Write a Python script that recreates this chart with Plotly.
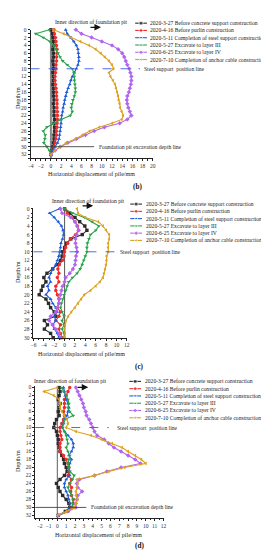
import plotly.graph_objects as go

W, H = 269, 550
FONT = "Liberation Serif"

# ---------------- data ----------------
LABELS = [
    "2020-3-27 Before concrete support construction",
    "2020-4-16 Before purlin construction",
    "2020-5-11 Completion of steel support construction",
    "2020-5-27 Excavate to layer III",
    "2020-6-25 Excavate to layer IV",
    "2020-7-10 Completion of anchor cable construction",
]
COLORS = ["#2b2b2b", "#f02b2b", "#1f5cd6", "#27a34a", "#b265ee", "#dba21e"]
SYMBOLS = ["square", "circle", "triangle-up", "triangle-down", "diamond", "triangle-left"]

DEPTH_B = list(range(0, 33))
DEPTH_C = list(range(0, 31))
DEPTH_D = list(range(0, 33))

# panel (b)
B_0327 = [0.0, 0.3, 0.4, 0.5, 0.5, 0.4, 0.5, 0.5, 0.4, 0.5, 0.5, 0.4, 0.5, 0.5, 0.4, 0.5, 0.5,
          0.5, 0.6, 0.5, 0.6, 0.6, 0.6, 0.7, 0.6, 0.7, 0.7, 0.6, 0.6, 0.5, 0.4, 0.2, 0.0]
B_0416 = [0.6, 0.7, 0.9, 1.0, 1.1, 1.2, 1.2, 1.1, 1.1, 1.0, 1.0, 0.9, 0.8, 0.8, 0.9, 1.0, 1.1,
          1.1, 1.2, 1.2, 1.2, 1.3, 1.3, 1.3, 1.2, 1.2, 1.1, 1.1, 1.0, 0.8, 0.6, 0.3, 0.0]
B_0511 = [2.9, 3.2, 3.9, 4.5, 5.0, 5.3, 5.4, 5.5, 5.5, 5.3, 5.0, 4.6, 4.2, 3.9, 3.7, 3.4, 3.1,
          2.9, 2.7, 2.6, 2.4, 2.3, 2.1, 2.0, 2.0, 1.9, 1.8, 1.7, 1.6, 1.3, 0.8, 0.4, 0.0]
B_0527 = [-0.3, -3.0, -1.5, -0.2, 0.5, 1.0, 1.4, 1.8, 2.3, 3.2, 4.2, 4.5, 4.6, 4.6, 4.7, 4.8, 4.8,
          4.6, 4.3, 4.1, 4.0, 4.2, 3.8, 2.0, 0.5, -0.8, -1.5, -1.1, -1.2, -1.4, -0.8, -0.3, 0.0]
B_0625 = [4.9, 6.0, 8.0, 10.0, 12.0, 13.2, 14.0, 14.4, 14.7, 15.0, 15.4, 15.6, 15.8, 15.8, 15.7, 15.5, 15.3,
          15.0, 14.9, 15.0, 15.2, 15.5, 15.8, 15.0, 13.5, 10.5, 8.5, 6.8, 5.0, 3.3, 1.8, 0.8, 0.0]
B_0710 = [0.5, 2.5, 4.0, 5.8, 7.5, 8.8, 9.8, 10.6, 11.4, 12.0, 12.3, 11.4, 11.7, 12.2, 12.6, 12.8, 13.0,
          13.2, 13.3, 13.5, 13.6, 13.9, 14.2, 13.9, 12.0, 9.5, 7.6, 6.2, 4.8, 3.0, 1.8, 0.8, 0.0]

# panel (c)
C_0327 = [0.0, 1.0, 2.0, 2.9, 3.9, 4.3, 3.4, 1.2, 0.4, 0.0, -0.4, -0.5, -0.8, -1.4, -2.3, -3.4,
          -4.0, -3.6, -4.2, -4.5, -4.9, -3.6, -3.1, -2.7, -2.0, -1.7, -3.9, -3.3, -3.9, -2.7, -2.2]
C_0416 = [0.0, 0.5, 1.3, 2.0, 2.5, 2.7, 2.1, 1.1, 0.6, 0.2, 0.0, -0.1, -0.4, -1.0, -1.3, -1.1,
          -1.4, -1.1, -1.7, -1.7, -1.4, -1.1, -1.1, -1.4, -0.8, -1.1, -1.7, -0.8, -1.1, -0.8, -0.5]
C_0511 = [-1.0, -2.9, -2.0, -1.2, -0.6, -0.3, -0.2, -0.4, -0.7, -0.8, -0.9, -1.1, -1.4, -1.7, -2.3, -2.7,
          -3.0, -2.7, -3.3, -3.0, -3.6, -2.7, -2.3, -1.7, -1.4, -2.0, -1.7, -2.3, -2.0, -1.4, -1.1]
C_0527 = [0.0, 1.5, 3.8, 5.3, 6.6, 6.0, 5.0, 4.7, 4.4, 4.3, 4.3, 4.0, 3.7, 3.4, 3.0, 2.4,
          1.5, 0.8, 0.5, 0.2, -0.1, -0.4, -0.6, -0.8, -0.5, -0.1, -0.5, -0.1, -0.5, -0.1, -0.1]
C_0625 = [-0.8, -0.5, 1.2, 2.0, 2.4, 2.7, 2.3, 2.1, 2.1, 2.3, 2.4, 2.2, 2.1, 2.0, 1.6, 1.0,
          0.2, 0.0, -0.4, -0.6, -0.8, -1.0, -1.1, -1.4, -1.7, -2.7, -3.0, -2.3, -1.7, -1.1, -0.8]
C_0710 = [2.4, 2.6, 4.0, 6.5, 7.4, 8.0, 8.6, 8.6, 8.4, 8.4, 8.4, 8.1, 8.1, 8.0, 7.8, 7.6,
          7.4, 6.8, 6.0, 5.0, 3.8, 3.2, 2.6, 2.0, 1.3, 0.7, 0.3, 0.1, 0.0, 0.1, 0.0]

# panel (d)
D_0327 = [0.2, 0.3, 0.2, 0.1, 0.3, 0.2, 0.1, 0.2, -0.1, -0.3, -0.4, -0.1, 0.0, 0.1, 0.1, 0.2, 0.3,
          0.5, 0.7, 0.8, 1.0, 1.1, 0.8, 0.3, -0.1, 0.1, 0.3, 0.6, 1.0, 1.3, 1.4, 0.9, 0.1]
D_0416 = [1.4, 1.2, 1.0, 0.8, 0.8, 0.8, 0.7, 0.8, 0.7, 0.5, 0.3, 0.3, 0.4, 0.5, 0.3, 0.3, 0.3,
          0.7, 1.0, 1.2, 1.3, 1.3, 1.2, 1.6, 1.4, 1.6, 1.5, 1.6, 1.8, 1.8, 1.6, 1.2, 0.1]
D_0511 = [0.7, 0.8, 0.9, 1.0, 1.2, 1.3, 1.2, 1.1, 0.8, 0.7, 0.5, 0.8, 1.2, 1.6, 1.8, 1.8, 1.6,
          1.3, 1.6, 1.4, 1.3, 1.4, 1.4, 1.0, 0.8, 0.8, 1.0, 1.2, 1.3, 1.4, 1.4, 1.0, 0.1]
D_0527 = [0.5, 0.7, 1.0, 1.2, 1.3, 1.2, 1.4, 1.8, 0.8, 0.7, 0.6, 0.8, 1.0, 1.1, 1.2, 1.0, 1.2,
          1.4, 1.3, 1.2, 1.3, 1.4, 1.9, 1.7, 1.4, 1.2, 1.4, 1.6, 1.8, 1.7, 1.8, 1.2, 0.1]
D_0625 = [2.1, 2.3, 2.5, 2.7, 2.9, 3.0, 3.2, 3.3, 3.6, 3.8, 4.0, 4.2, 4.5, 5.3, 5.8, 6.4, 7.2,
          8.0, 8.8, 9.4, 7.2, 5.6, 4.2, 2.5, 2.2, 2.3, 2.8, 2.3, 2.2, 2.1, 2.1, 1.2, 0.1]
D_0710 = [0.0, -1.5, -0.4, 0.2, 0.3, 0.3, 0.5, 0.8, 1.1, 1.2, 1.0, 2.1, 3.8, 5.0, 6.2, 7.3, 8.0,
          8.8, 9.5, 10.0, 7.6, 5.8, 4.2, 2.2, 2.3, 2.2, 2.1, 2.1, 2.3, 2.1, 1.9, 1.0, 0.0]

X_TICKS_B = [-4, -2, 0, 2, 4, 6, 8, 10, 12, 14, 16, 18, 20]
X_TICKS_C = [-6, -4, -2, 0, 2, 4, 6, 8, 10, 12]
X_TICKS_D = [-2, -1, 0, 1, 2, 3, 4, 5, 6, 7, 8, 9, 10, 11, 12]
Y_TICKS_B = list(range(0, 33, 2))
Y_TICKS_C = list(range(0, 31, 2))
Y_TICKS_D = list(range(0, 33, 2))

STEEL_DEPTH = 10
PIT_DEPTH = 30


def px(p):
    return p / W


def py(p):
    return 1 - p / H


PANELS = [
    dict(tag="(b)", depth=DEPTH_B, series=[B_0327, B_0416, B_0511, B_0527, B_0625, B_0710],
         xdom=(20, 145), ydom=(19, 149), xr=[-4, 20], yr=[33, 0], xt=X_TICKS_B, yt=Y_TICKS_B,
         steel_end=132, steel_txt=134, pit=True, pit_end=85, pit_txt=88, zero_col="#8a8a8a", zero_w=2,
         inner=(82, 11), arrow=(92, 16.5), leg_y=12.3, leg_gx=133, leg_tx=140.5,
         xtitle=(82, 164.5), ytitle=88, tagpos=(129, 177.5)),
    dict(tag="(c)", depth=DEPTH_C, series=[C_0327, C_0416, C_0511, C_0527, C_0625, C_0710],
         xdom=(23, 118.5), ydom=(198.7, 330.3), xr=[-6, 12], yr=[30, -0.3], xt=X_TICKS_C, yt=Y_TICKS_C,
         steel_end=107, steel_txt=109.5, pit=False, zero_col="#555555", zero_w=1,
         inner=(79, 192), arrow=(84, 197), leg_y=195.2, leg_gx=128, leg_tx=136.5,
         xtitle=(72, 346.5), ytitle=264, tagpos=(131, 359.5)),
    dict(tag="(d)", depth=DEPTH_D, series=[D_0327, D_0416, D_0511, D_0527, D_0625, D_0710],
         xdom=(24.8, 156), ydom=(379.5, 512.8), xr=[-2.5, 12], yr=[32.7, -0.3], xt=X_TICKS_D, yt=Y_TICKS_D,
         steel_end=100, steel_txt=106, pit=True, pit_end=77, pit_txt=80, zero_col="#777777", zero_w=1.2,
         inner=(61, 374.5), arrow=(79, 380.5), leg_y=374.5, leg_gx=127, leg_tx=135.5,
         xtitle=(90, 529.5), ytitle=455, tagpos=(131, 540.5)),
]

LEG_STEP = 7.35

fig = go.Figure()
annotations = []
shapes = []
layout_axes = {}

for i, P in enumerate(PANELS):
    n = i + 1
    xa = "x" if n == 1 else f"x{n}"
    ya = "y" if n == 1 else f"y{n}"
    xkey = "xaxis" if n == 1 else f"xaxis{n}"
    ykey = "yaxis" if n == 1 else f"yaxis{n}"

    for s, vals in enumerate(P["series"]):
        fig.add_trace(go.Scatter(
            x=vals, y=P["depth"], mode="lines+markers", xaxis=xa, yaxis=ya,
            line=dict(color=COLORS[s], width=1.1),
            marker=dict(symbol=SYMBOLS[s], size=3.4, color=COLORS[s]),
            showlegend=False, cliponaxis=False))

    common = dict(showline=True, linecolor="#222", linewidth=0.8, ticks="outside", ticklen=2,
                  tickwidth=0.8, tickcolor="#222", showgrid=False, zeroline=False,
                  tickfont=dict(family=FONT, size=5.5, color="#333"), mirror=False)
    xminor = 0.5 if n == 3 else 1
    layout_axes[xkey] = dict(common, domain=[px(P["xdom"][0]), px(P["xdom"][1])], range=P["xr"],
                             anchor=ya, tickmode="array", tickvals=P["xt"],
                             minor=dict(ticks="outside", ticklen=1.3, dtick=xminor, tick0=0,
                                        tickcolor="#222", tickwidth=0.6))
    layout_axes[ykey] = dict(common, domain=[py(P["ydom"][1]), py(P["ydom"][0])], range=P["yr"],
                             anchor=xa, tickmode="array", tickvals=P["yt"],
                             minor=dict(ticks="outside", ticklen=1.3, dtick=1, tick0=0,
                                        tickcolor="#222", tickwidth=0.6))

    # vertical zero line
    shapes.append(dict(type="line", xref=xa, yref=f"{ya} domain", x0=0, x1=0, y0=0, y1=1,
                       line=dict(color=P["zero_col"], width=P["zero_w"]), layer="below"))
    # steel support line
    shapes.append(dict(type="line", xref="paper", yref=ya, x0=px(P["xdom"][0]), x1=px(P["steel_end"]),
                       y0=STEEL_DEPTH, y1=STEEL_DEPTH, line=dict(color="#3a5ee8", width=0.9, dash="dash")))
    annotations.append(dict(xref="paper", yref=ya, x=px(P["steel_txt"]), y=STEEL_DEPTH,
                            text="Steel support  position line", showarrow=False, xanchor="left",
                            yanchor="middle", font=dict(family=FONT, size=5.6, color="#222")))
    if P["pit"]:
        shapes.append(dict(type="line", xref="paper", yref=ya, x0=px(P["xdom"][0]), x1=px(P["pit_end"]),
                           y0=PIT_DEPTH, y1=PIT_DEPTH, line=dict(color="#444", width=0.9)))
        annotations.append(dict(xref="paper", yref=ya, x=px(P["pit_txt"]), y=PIT_DEPTH,
                                text="Foundation pit excavation depth line", showarrow=False,
                                xanchor="left", yanchor="middle",
                                font=dict(family=FONT, size=5.6, color="#222")))
    # inner direction text + arrow
    annotations.append(dict(xref="paper", yref="paper", x=px(P["inner"][0]), y=py(P["inner"][1]),
                            text="Inner direction of foundation pit", showarrow=False,
                            xanchor="center", yanchor="middle",
                            font=dict(family=FONT, size=5.6, color="#222")))
    annotations.append(dict(xref="paper", yref="paper", x=px(P["arrow"][0]), y=py(P["arrow"][1]),
                            ax=-12, ay=0, text="", showarrow=True, arrowhead=2, arrowsize=1,
                            arrowwidth=1.3, arrowcolor="#111"))
    # axis titles
    annotations.append(dict(xref="paper", yref="paper", x=px(P["xtitle"][0]), y=py(P["xtitle"][1]),
                            text="Horizontal displacement of pile/mm", showarrow=False,
                            xanchor="center", yanchor="middle",
                            font=dict(family=FONT, size=6.0, color="#222")))
    annotations.append(dict(xref="paper", yref="paper", x=px(6), y=py(P["ytitle"]),
                            text="Depth/m", showarrow=False, textangle=-90,
                            xanchor="center", yanchor="middle",
                            font=dict(family=FONT, size=6.2, color="#222")))
    annotations.append(dict(xref="paper", yref="paper", x=px(P["tagpos"][0]), y=py(P["tagpos"][1]),
                            text="<b>" + P["tag"] + "</b>", showarrow=False,
                            xanchor="center", yanchor="middle",
                            font=dict(family=FONT, size=7.2, color="#111")))

    # legend glyphs (drawn on a pixel overlay axis) and texts
    for s in range(6):
        gy = P["leg_y"] + s * LEG_STEP
        gx = P["leg_gx"]
        fig.add_trace(go.Scatter(
            x=[gx - 6, gx, gx + 6], y=[gy, gy, gy], mode="lines+markers",
            xaxis="x4", yaxis="y4", line=dict(color=COLORS[s], width=1.1),
            marker=dict(symbol=SYMBOLS[s], size=[0, 3.8, 0], color=COLORS[s]),
            showlegend=False, cliponaxis=False, hoverinfo="skip"))
        annotations.append(dict(xref="paper", yref="paper", x=px(P["leg_tx"]), y=py(gy),
                                text=LABELS[s], showarrow=False, xanchor="left", yanchor="middle",
                                font=dict(family=FONT, size=5.6, color="#222")))

layout_axes["xaxis4"] = dict(domain=[0, 1], range=[0, W], visible=False, anchor="y4")
layout_axes["yaxis4"] = dict(domain=[0, 1], range=[H, 0], visible=False, anchor="x4")

fig.update_layout(
    width=W, height=H, margin=dict(l=0, r=0, t=0, b=0),
    paper_bgcolor="white", plot_bgcolor="rgba(0,0,0,0)",
    showlegend=False, annotations=annotations, shapes=shapes,
    **layout_axes)

fig.write_html("out.html")
